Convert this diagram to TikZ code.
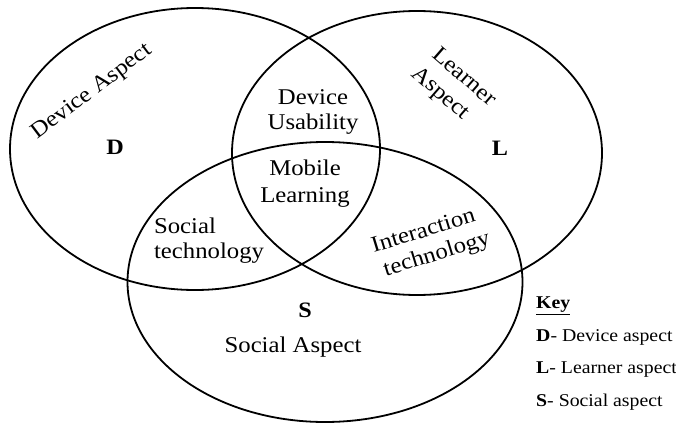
\documentclass[tikz,border=0pt]{standalone}
\usepackage{fontspec}
\setmainfont{Liberation Serif}[FakeStretch=1.1]
\usetikzlibrary{shapes.geometric}
\tikzset{
  setcirc/.style={draw=black, line width=1.8pt, ellipse, inner sep=0pt},
  lbl/.style={font=\fontsize{22.5}{26}\selectfont, inner sep=0pt},
  letter/.style={font=\fontsize{22}{26}\selectfont\bfseries, inner sep=0pt},
  keytxt/.style={font=\fontsize{18}{20}\selectfont, inner sep=0pt, anchor=west}
}
\begin{document}
\begin{tikzpicture}[x=1pt,y=-1pt]
\useasboundingbox (0,0) rectangle (676,425);
\fill[white] (0,0) rectangle (676,425);
% three sets
\node[setcirc, minimum width=370pt, minimum height=282pt] (D) at (195,149) {};
\node[setcirc, minimum width=370pt, minimum height=284pt] (L) at (417,153) {};
\node[setcirc, minimum width=395pt, minimum height=280pt] (S) at (325,282) {};
% labels
\node[lbl, rotate=37] (da) at (92,92) {Device Aspect};
\node[letter] (dl) at (115,147) {D};
\node[lbl, align=center, font=\fontsize{22.5}{25}\selectfont] (du) at (313,112) {Device\\Usability};
\node[lbl, align=center, font=\fontsize{22.5}{27}\selectfont] (ml) at (305,184) {Mobile\\Learning};
\node[lbl, rotate=-41] (la1) at (465,76) {Learner};
\node[lbl, rotate=-41] (la2) at (440,94) {Aspect};
\node[letter] (ll) at (500,148) {L};
\node[lbl, align=left, font=\fontsize{22.5}{25}\selectfont] (st) at (209,241) {Social\\technology};
\node[lbl, rotate=17] (it1) at (423,230) {Interaction};
\node[lbl, rotate=17] (it2) at (437,255) {technology};
\node[letter] (sl) at (305,310) {S};
\node[lbl] (sa) at (293,347) {Social Aspect};
% key
\node[keytxt, font=\fontsize{18}{20}\selectfont\bfseries] (key) at (536,306) {\underline{Key}};
\node[keytxt] (kd) at (536,337) {\textbf{D}- Device aspect};
\node[keytxt] (kl) at (536,370) {\textbf{L}- Learner aspect};
\node[keytxt] (ks) at (536,402) {\textbf{S}- Social aspect};
\end{tikzpicture}
\end{document}
